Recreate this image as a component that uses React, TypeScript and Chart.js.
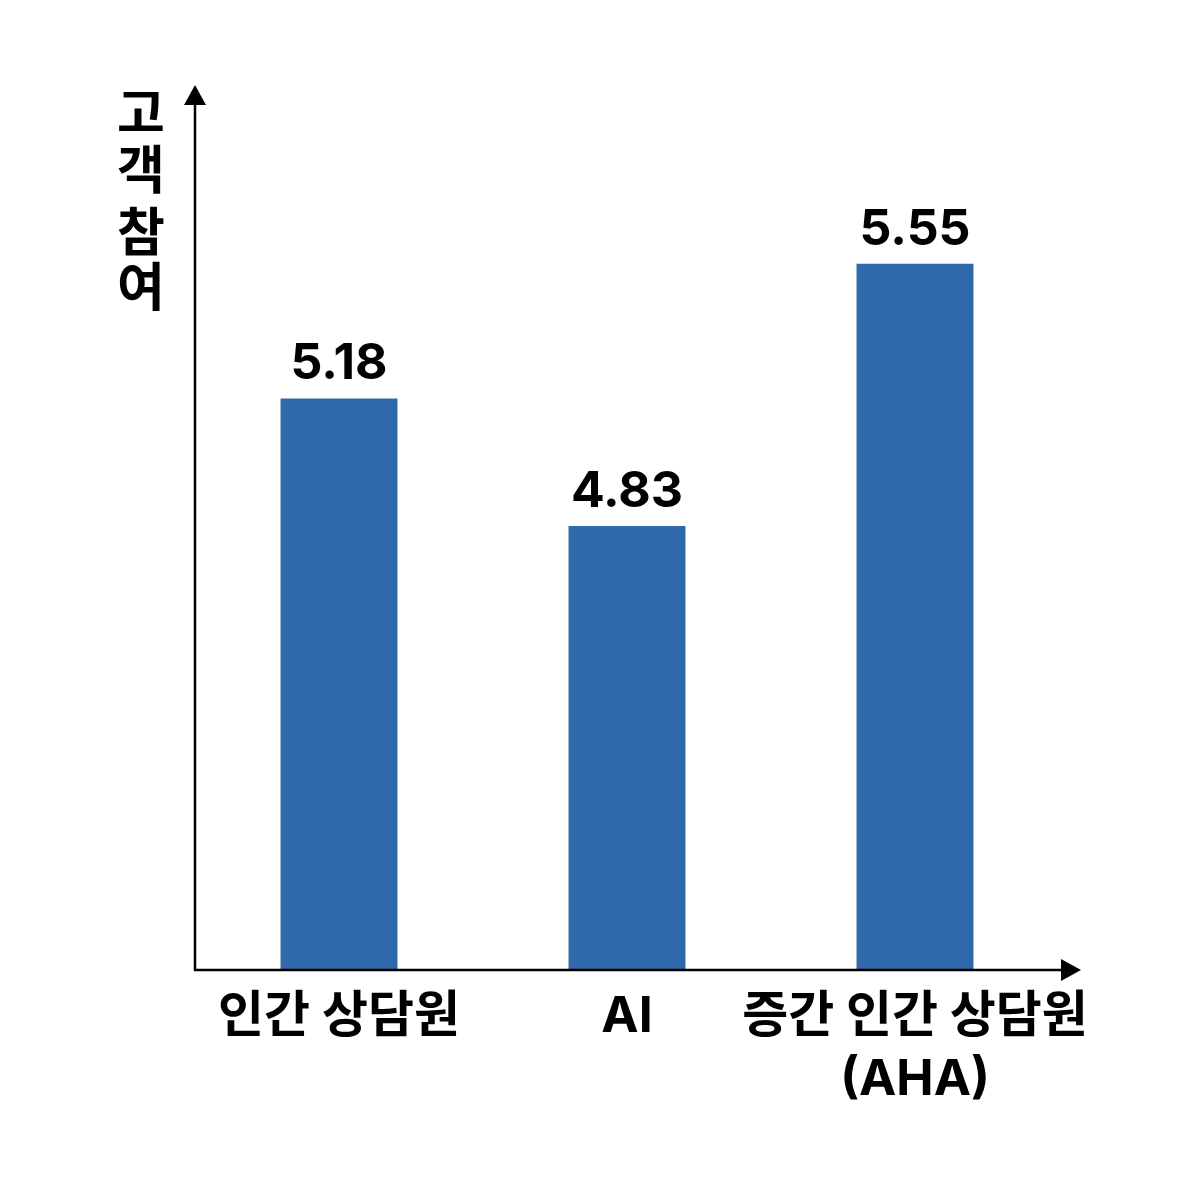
import { Chart, registerables } from "chart.js";
import type { Plugin } from "chart.js";
import { useEffect, useRef } from "react";

Chart.register(...registerables);

const categories = [["인간 상담원"], ["AI"], ["증간 인간 상담원", "(AHA)"]];
const engagement = [5.18, 4.83, 5.55];
const yTitleChars = ["고", "객", "참", "여"];

const FONT = "Inter, 'Noto Sans CJK KR', sans-serif";
const BAR_COLOR = "#3069AB";

const axesPlugin: Plugin<"bar"> = {
  id: "arrowAxes",
  afterDatasetsDraw(chart) {
    const { ctx, chartArea } = chart;
    const x0 = chartArea.left;
    const y0 = chartArea.bottom;
    ctx.save();
    ctx.strokeStyle = "#000";
    ctx.fillStyle = "#000";
    ctx.lineWidth = 2.5;

    // y axis with arrow
    ctx.beginPath();
    ctx.moveTo(x0, y0 + 1);
    ctx.lineTo(x0, 100);
    ctx.stroke();
    ctx.beginPath();
    ctx.moveTo(x0, 85);
    ctx.lineTo(x0 - 11, 105);
    ctx.lineTo(x0 + 11, 105);
    ctx.closePath();
    ctx.fill();

    // x axis with arrow
    ctx.beginPath();
    ctx.moveTo(x0 - 1, y0);
    ctx.lineTo(1065, y0);
    ctx.stroke();
    ctx.beginPath();
    ctx.moveTo(1081, y0);
    ctx.lineTo(1061, y0 - 11);
    ctx.lineTo(1061, y0 + 11);
    ctx.closePath();
    ctx.fill();

    // value labels
    ctx.font = `bold 50px ${FONT}`;
    ctx.textAlign = "center";
    ctx.textBaseline = "alphabetic";
    const meta = chart.getDatasetMeta(0);
    meta.data.forEach((bar, i) => {
      ctx.fillText(engagement[i].toFixed(2), bar.x, bar.y - 19);
    });

    // category labels
    const xScale = chart.scales.x;
    ctx.textBaseline = "middle";
    categories.forEach((lines, i) => {
      const cx = xScale.getPixelForValue(i);
      lines.forEach((line, j) => {
        ctx.fillText(line, cx, 1017 + j * 63);
      });
    });

    // vertical y title
    ctx.font = `bold 52px ${FONT}`;
    const titleY = [116, 173, 235, 290];
    yTitleChars.forEach((ch, i) => {
      ctx.fillText(ch, 141, titleY[i]);
    });
    ctx.restore();
  },
};

export default function App() {
  const canvasRef = useRef<HTMLCanvasElement | null>(null);

  useEffect(() => {
    if (!canvasRef.current) return;

    const chart = new Chart(canvasRef.current, {
      type: "bar",
      data: {
        labels: categories.map((c) => c.join(" ")),
        datasets: [
          {
            data: engagement,
            backgroundColor: BAR_COLOR,
            borderWidth: 0,
            barPercentage: 0.406,
            categoryPercentage: 1,
          },
        ],
      },
      options: {
        responsive: false,
        animation: false,
        layout: { padding: { left: 195, right: 141, top: 96, bottom: 230 } },
        scales: {
          x: { display: false },
          y: { display: false, min: 3.61, max: 6.011 },
        },
        plugins: {
          legend: { display: false },
          tooltip: { enabled: false },
        },
      },
      plugins: [axesPlugin],
    });

    return () => chart.destroy();
  }, []);

  return (
    <div style={{ position: "fixed", left: 0, top: 0, width: 1200, height: 1200, background: "#fff" }}>
      <canvas ref={canvasRef} width={1200} height={1200} />
    </div>
  );
}
